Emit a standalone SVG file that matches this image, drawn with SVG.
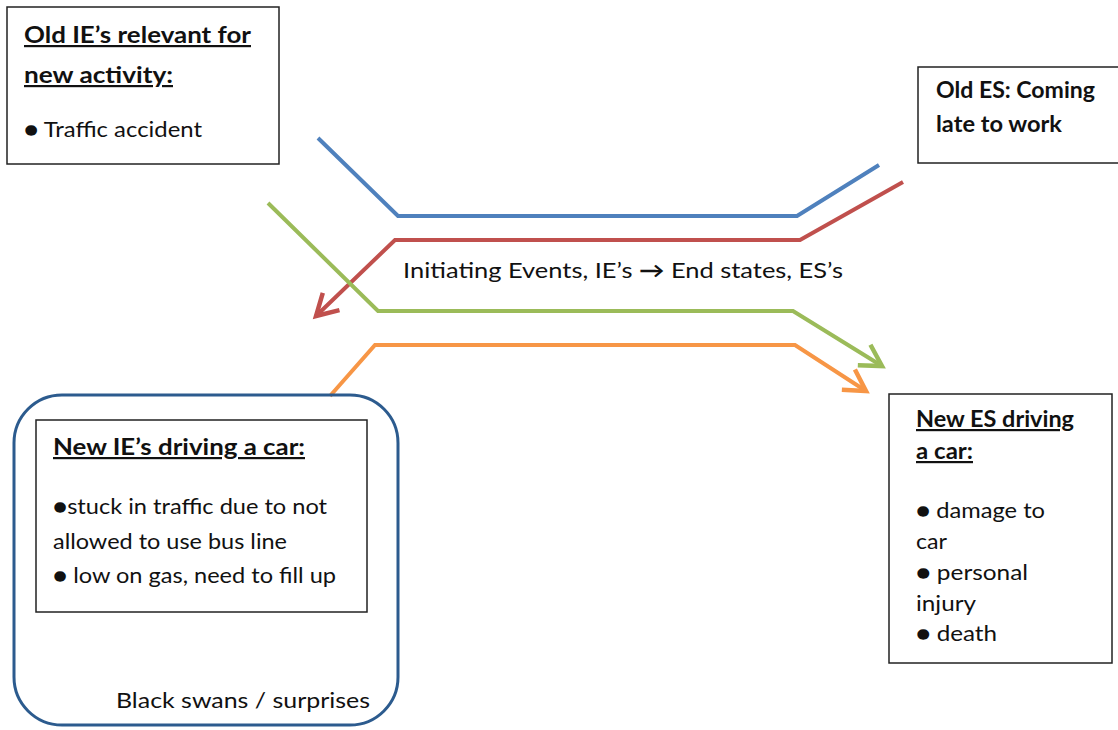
<svg xmlns="http://www.w3.org/2000/svg" width="1118" height="730" viewBox="0 0 1118 730">
  <style>
    text { font-family: Lato, "Open Sans", "Liberation Sans", sans-serif; fill: #111; font-size: 21.5px; }
    .b { font-weight: bold; font-size: 22px; text-decoration: underline; }
    .h { font-weight: bold; font-size: 22px; }
    .arr { font-weight: bold; }
    .box { fill: #fff; stroke: #222; stroke-width: 1.5; }
    .flow { fill: none; stroke-width: 4; stroke-linejoin: miter; }
  </style>
  <defs>
    <marker id="ahRed" viewBox="0 0 20 20" refX="16" refY="10" markerWidth="7.5" markerHeight="7.5" markerUnits="strokeWidth" orient="auto">
      <path d="M2,2 L16,10 L2,18" fill="none" stroke="#c0504d" stroke-width="3"/>
    </marker>
    <marker id="ahGreen" viewBox="0 0 20 20" refX="16" refY="10" markerWidth="7.5" markerHeight="7.5" markerUnits="strokeWidth" orient="auto">
      <path d="M2,2 L16,10 L2,18" fill="none" stroke="#9bbb59" stroke-width="3"/>
    </marker>
    <marker id="ahOrange" viewBox="0 0 20 20" refX="16" refY="10" markerWidth="7.5" markerHeight="7.5" markerUnits="strokeWidth" orient="auto">
      <path d="M2,2 L16,10 L2,18" fill="none" stroke="#f79646" stroke-width="3"/>
    </marker>
  </defs>

  <rect width="1118" height="730" fill="#fff"/>

  <!-- flow lines between initiating events and end states -->
  <g id="connectors">
    <polyline class="flow" stroke="#4f81bd" points="318,138 398,216 797,216 879,165"/>
    <polyline class="flow" stroke="#c0504d" points="903,182 800,240 395,240 316,316" marker-end="url(#ahRed)"/>
    <polyline class="flow" stroke="#9bbb59" points="268,203 378,311 793,311 882,366" marker-end="url(#ahGreen)"/>
    <polyline class="flow" stroke="#f79646" points="330,396 375,345 795,345 866,391" marker-end="url(#ahOrange)"/>
    <text x="403" y="278" textLength="440" lengthAdjust="spacingAndGlyphs">Initiating Events, IE’s <tspan class="arr">→</tspan> End states, ES’s</text>
  </g>

  <g id="old-ie">
    <rect class="box" x="7" y="7" width="272" height="157"/>
    <text class="b" x="24" y="43" textLength="227" lengthAdjust="spacingAndGlyphs">Old IE’s relevant for</text>
    <text class="b" x="24" y="83" textLength="149" lengthAdjust="spacingAndGlyphs">new activity:</text>
    <text x="24" y="137" textLength="178" lengthAdjust="spacingAndGlyphs">● Traffic accident</text>
  </g>

  <g id="old-es">
    <rect class="box" x="918" y="67" width="210" height="96"/>
    <text class="h" x="936" y="98" textLength="159" lengthAdjust="spacingAndGlyphs">Old ES: Coming</text>
    <text class="h" x="936" y="132" textLength="126" lengthAdjust="spacingAndGlyphs">late to work</text>
  </g>

  <g id="black-swans">
    <rect x="14" y="395" width="384" height="330" rx="48" ry="48" fill="none" stroke="#2c5b8e" stroke-width="3"/>
    <text x="370" y="708" text-anchor="end" textLength="254" lengthAdjust="spacingAndGlyphs">Black swans / surprises</text>
  </g>

  <g id="new-ie">
    <rect class="box" x="36" y="420" width="331" height="192"/>
    <text class="b" x="53" y="455" textLength="252" lengthAdjust="spacingAndGlyphs">New IE’s driving a car:</text>
    <text x="53" y="514" textLength="274" lengthAdjust="spacingAndGlyphs">●stuck in traffic due to not</text>
    <text x="53" y="549" textLength="234" lengthAdjust="spacingAndGlyphs">allowed to use bus line</text>
    <text x="53" y="583" textLength="283" lengthAdjust="spacingAndGlyphs">● low on gas, need to fill up</text>
  </g>

  <g id="new-es">
    <rect class="box" x="889" y="394" width="223" height="269"/>
    <text class="b" x="916" y="427" textLength="158" lengthAdjust="spacingAndGlyphs">New ES driving</text>
    <text class="b" x="916" y="459" textLength="57" lengthAdjust="spacingAndGlyphs">a car:</text>
    <text x="916" y="518" textLength="129" lengthAdjust="spacingAndGlyphs">● damage to</text>
    <text x="916" y="549" textLength="31" lengthAdjust="spacingAndGlyphs">car</text>
    <text x="916" y="580" textLength="112" lengthAdjust="spacingAndGlyphs">● personal</text>
    <text x="916" y="611" textLength="60" lengthAdjust="spacingAndGlyphs">injury</text>
    <text x="916" y="641" textLength="81" lengthAdjust="spacingAndGlyphs">● death</text>
  </g>
</svg>
